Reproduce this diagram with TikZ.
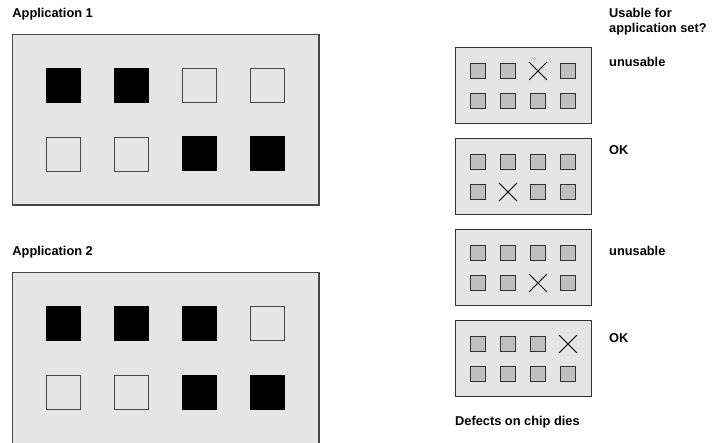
\documentclass[tikz,border=0pt]{standalone}
\usepackage{fontspec}
\setmainfont{Liberation Sans}
\usetikzlibrary{shapes.misc}
\definecolor{boxfill}{RGB}{229,229,229}
\definecolor{padfill}{RGB}{192,192,192}
\definecolor{edge}{RGB}{72,72,72}
\definecolor{padedge}{RGB}{50,50,50}
\begin{document}
\begin{tikzpicture}[x=1bp,y=-1bp,
  appbox/.style={draw=edge, fill=boxfill, line width=1.1bp, minimum width=306.7bp, minimum height=170.7bp, anchor=north west, inner sep=0pt, outer sep=0pt},
  die/.style={draw=padedge, fill=boxfill, line width=1bp, minimum width=136.5bp, minimum height=76bp, anchor=north west, inner sep=0pt, outer sep=0pt},
  bigon/.style={fill=black, minimum size=35bp, inner sep=0pt},
  bigoff/.style={draw=edge, fill=boxfill, line width=0.9bp, minimum size=34bp, inner sep=0pt},
  pad/.style={draw=padedge, fill=padfill, line width=0.9bp, minimum size=15bp, inner sep=0pt},
  xmark/.style={cross out, draw=black, line width=0.8bp, minimum size=17bp, inner sep=0pt},
  lbl/.style={font=\bfseries\fontsize{12.8bp}{15bp}\selectfont, anchor=base west, inner sep=0pt}
]
\useasboundingbox (0,0) rectangle (713,443);

% Application 1
\node[lbl] (t1) at (12.3,17.3) {Application 1};
\node[appbox] (app1) at (12.3,34.3) {};
\foreach \c/\r/\s in {1/1/bigon,2/1/bigon,3/1/bigoff,4/1/bigoff,1/2/bigoff,2/2/bigoff,3/2/bigon,4/2/bigon}
  \node[\s] (a1-\r-\c) at ({63.5+68*(\c-1)},{85.5+68.5*(\r-1)}) {};

% Application 2
\node[lbl] (t2) at (12.3,255.7) {Application 2};
\node[appbox] (app2) at (12.3,272.7) {};
\foreach \c/\r/\s in {1/1/bigon,2/1/bigon,3/1/bigon,4/1/bigoff,1/2/bigoff,2/2/bigoff,3/2/bigon,4/2/bigon}
  \node[\s] (a2-\r-\c) at ({63.5+68*(\c-1)},{323.9+68.5*(\r-1)}) {};

% Chip dies
\node[lbl] (q1) at (609,17.3) {Usable for};
\node[lbl] (q2) at (609,33) {application set?};
\foreach \dn/\tp/\xr/\xc/\res/\ly in {1/47.5/1/3/unusable/66.7, 2/138.5/2/2/OK/154.5, 3/229.5/2/3/unusable/256, 4/320.5/1/4/OK/343} {
  \node[die] (die\dn) at (455,\tp) {};
  \node[lbl] (r\dn) at (609,\ly) {\res};
  \foreach \r in {1,2} {
    \foreach \c in {1,...,4} {
      \pgfmathtruncatemacro\isx{and(\r==\xr,\c==\xc)}
      \ifnum\isx=1
        \node[xmark] (p\dn-\r-\c) at ({478+30*(\c-1)},{\tp+23.5+30*(\r-1)}) {};
      \else
        \node[pad] (p\dn-\r-\c) at ({478+30*(\c-1)},{\tp+23.5+30*(\r-1)}) {};
      \fi
    }
  }
}
\node[lbl] (cap) at (455,425) {Defects on chip dies};
\end{tikzpicture}
\end{document}
